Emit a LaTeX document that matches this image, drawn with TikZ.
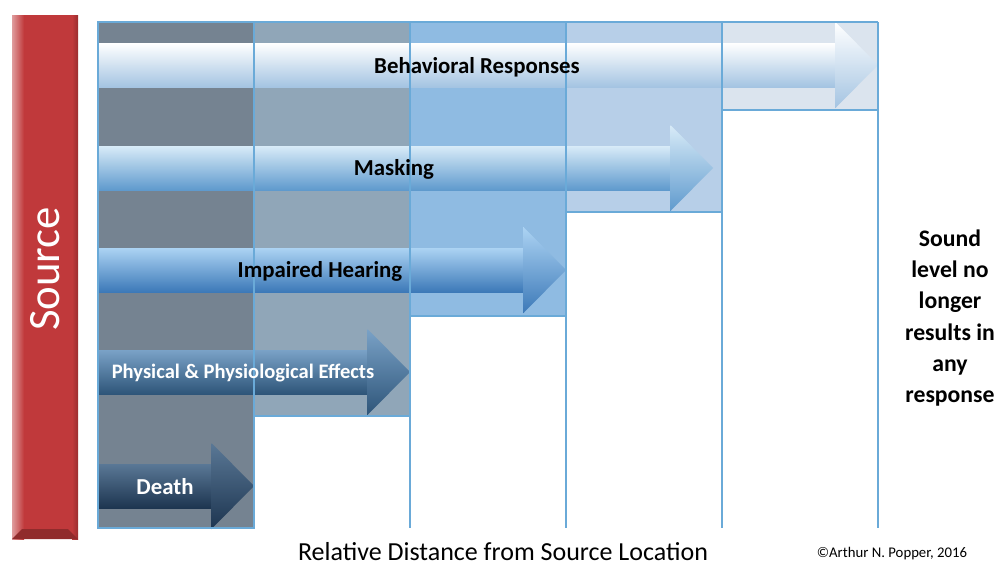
\documentclass[tikz,border=0pt]{standalone}
\usepackage{fontspec}
\setmainfont{Carlito}

\definecolor{gridblue}{HTML}{6AAAD8}
\definecolor{zoneA}{HTML}{758391}
\definecolor{zoneB}{HTML}{90A6B8}
\definecolor{zoneC}{HTML}{8FBBE2}
\definecolor{zoneD}{HTML}{B7CFE8}
\definecolor{zoneE}{HTML}{DBE4EE}
\definecolor{srcred}{HTML}{C0393B}

% effect arrow: tail x, tip x, centre y, top, middle, bottom colour (HTML)
\newcommand{\effectarrow}[6]{%
  \definecolor{arrtop}{HTML}{#4}\definecolor{arrmid}{HTML}{#5}\definecolor{arrbot}{HTML}{#6}%
  \shade[top color=arrtop, middle color=arrmid, bottom color=arrbot]
    (#1,{#3-22}) rectangle ({#2-42},{#3+22});
  \shade[top color=arrtop, middle color=arrmid, bottom color=arrbot]
    ({#2-42.5},{#3-43}) -- (#2,#3) -- ({#2-42.5},{#3+43}) -- cycle;}

\tikzset{
  zone line/.style={draw=gridblue, line width=0.8pt},
  effect/.style={font=\bfseries\fontsize{13}{15}\selectfont},
}

\begin{document}
\begin{tikzpicture}[x=0.02cm, y=-0.02cm]
\useasboundingbox (0,0) rectangle (998,565);

% source bar
\fill[srcred] (12,15) rectangle (78,539);
\shade[left color=srcred!50!white, right color=srcred] (12,15) rectangle (24,539);
\shade[left color=srcred, right color=srcred!80!black] (72,15) rectangle (78,539);
\fill[srcred!75!black] (12,539) -- (22,529) -- (68,529) -- (78,539) -- cycle;
\node[text=white, rotate=90, font=\fontsize{25.5}{28}\selectfont] (srclabel) at (45,269) {Source};

% distance zones
\fill[zoneA] (98,22) rectangle (254,528);
\fill[zoneB] (254,22) rectangle (410,416);
\fill[zoneC] (410,22) rectangle (566,316);
\fill[zoneD] (566,22) rectangle (722,212);
\fill[zoneE] (722,22) rectangle (878,110);

% effect arrows
\effectarrow{98}{878}{65}{FFFFFF}{C4DCF0}{A4C4E2}
\effectarrow{98}{713}{168}{D8EBF8}{92C0E7}{5F9ACD}
\effectarrow{98}{566}{270}{ACD3F3}{5E9CD5}{3C79B8}
\effectarrow{98}{410}{372}{7AA2C7}{46709A}{2E5579}
\effectarrow{98}{254}{486}{5A7896}{31506E}{1D3550}

% zone outlines
\draw[zone line] (98,22) rectangle (254,528);
\draw[zone line] (254,22) -- (878,22);
\draw[zone line] (254,416) -- (410,416);
\draw[zone line] (410,316) -- (566,316);
\draw[zone line] (566,212) -- (722,212);
\draw[zone line] (722,110) -- (878,110);
\foreach \x in {410,566,722,878}
  \draw[zone line] (\x,22) -- (\x,528);

% labels
\node[effect] (behav) at (477,67) {Behavioral Responses};
\node[effect] (mask) at (394,169) {Masking};
\node[effect] (hear) at (320,271) {Impaired Hearing};
\node[effect, text=white, font=\bfseries\fontsize{11.7}{13}\selectfont] (phys) at (243,373) {Physical \& Physiological Effects};
\node[effect, text=white] (death) at (165,487) {Death};

\node[align=center, font=\bfseries\fontsize{13.5}{17.8}\selectfont] (nolonger) at (950,318)
  {Sound\\level no\\longer\\results in\\any\\response};
\node[inner sep=0pt, anchor=base, font=\fontsize{14.8}{17}\selectfont] (xlabel) at (503,560) {Relative Distance from Source Location};
\node[inner sep=0pt, anchor=base, font=\fontsize{8.4}{10}\selectfont] (credit) at (892,557) {©Arthur N. Popper, 2016};
\end{tikzpicture}
\end{document}
